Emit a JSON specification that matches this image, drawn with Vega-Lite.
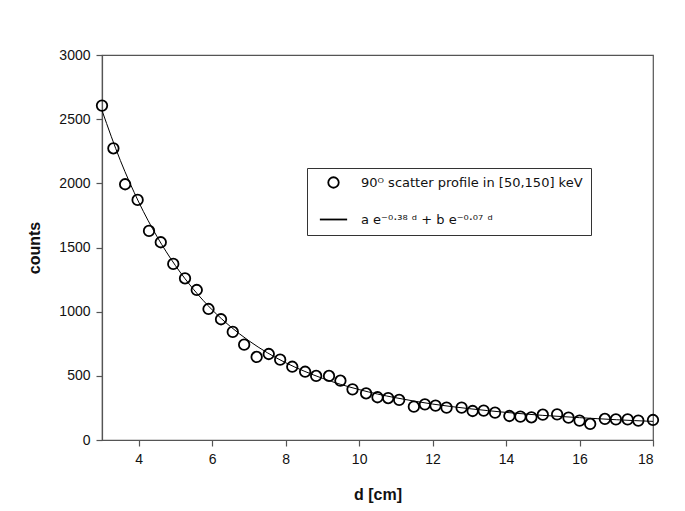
{
  "$schema": "https://vega.github.io/schema/vega-lite/v6.json",
  "width": 551,
  "height": 385,
  "autosize": "none",
  "padding": {"left": 102, "top": 55, "right": 32, "bottom": 71},
  "background": "white",
  "config": {
    "font": "Liberation Sans",
    "view": {"stroke": "#555555", "strokeWidth": 1.2},
    "axis": {
      "grid": false,
      "domainColor": "#555555",
      "tickColor": "#555555",
      "domainWidth": 1.2,
      "tickWidth": 1.2,
      "tickSize": 6,
      "labelFont": "Liberation Sans",
      "labelFontSize": 14,
      "labelColor": "#111111",
      "titleFont": "Liberation Sans",
      "titleFontSize": 16,
      "titleFontWeight": "bold",
      "titleColor": "#111111"
    }
  },
  "datasets": {
    "scatter": [
      {"d": 3.0, "counts": 2606}, {"d": 3.31, "counts": 2273}, {"d": 3.63, "counts": 1993},
      {"d": 3.97, "counts": 1871}, {"d": 4.28, "counts": 1629}, {"d": 4.6, "counts": 1541},
      {"d": 4.94, "counts": 1372}, {"d": 5.26, "counts": 1260}, {"d": 5.58, "counts": 1169},
      {"d": 5.9, "counts": 1021}, {"d": 6.24, "counts": 941}, {"d": 6.56, "counts": 842},
      {"d": 6.87, "counts": 743}, {"d": 7.21, "counts": 647}, {"d": 7.54, "counts": 670},
      {"d": 7.85, "counts": 626}, {"d": 8.18, "counts": 571}, {"d": 8.53, "counts": 532},
      {"d": 8.83, "counts": 499}, {"d": 9.18, "counts": 499}, {"d": 9.49, "counts": 462},
      {"d": 9.82, "counts": 395}, {"d": 10.19, "counts": 364}, {"d": 10.5, "counts": 333},
      {"d": 10.79, "counts": 327}, {"d": 11.09, "counts": 312}, {"d": 11.49, "counts": 260},
      {"d": 11.79, "counts": 278}, {"d": 12.08, "counts": 268}, {"d": 12.38, "counts": 252},
      {"d": 12.79, "counts": 252}, {"d": 13.09, "counts": 226}, {"d": 13.39, "counts": 229},
      {"d": 13.7, "counts": 213}, {"d": 14.09, "counts": 187}, {"d": 14.39, "counts": 182},
      {"d": 14.69, "counts": 177}, {"d": 15.0, "counts": 197}, {"d": 15.39, "counts": 200},
      {"d": 15.7, "counts": 174}, {"d": 16.0, "counts": 151}, {"d": 16.29, "counts": 125},
      {"d": 16.69, "counts": 164}, {"d": 16.99, "counts": 161}, {"d": 17.31, "counts": 161},
      {"d": 17.6, "counts": 151}, {"d": 18.0, "counts": 156}
    ],
    "fit": [
      {"d": 3.0, "counts": 2568}, {"d": 3.5, "counts": 2178}, {"d": 4.0, "counts": 1854},
      {"d": 4.5, "counts": 1584}, {"d": 5.0, "counts": 1359}, {"d": 5.5, "counts": 1171},
      {"d": 6.0, "counts": 1014}, {"d": 6.5, "counts": 883}, {"d": 7.0, "counts": 773},
      {"d": 7.5, "counts": 680}, {"d": 8.0, "counts": 602}, {"d": 8.5, "counts": 537},
      {"d": 9.0, "counts": 481}, {"d": 9.5, "counts": 433}, {"d": 10.0, "counts": 393},
      {"d": 10.5, "counts": 358}, {"d": 11.0, "counts": 329}, {"d": 11.5, "counts": 303},
      {"d": 12.0, "counts": 280}, {"d": 12.5, "counts": 261}, {"d": 13.0, "counts": 244},
      {"d": 13.5, "counts": 229}, {"d": 14.0, "counts": 215}, {"d": 14.5, "counts": 203},
      {"d": 15.0, "counts": 192}, {"d": 15.5, "counts": 183}, {"d": 16.0, "counts": 174},
      {"d": 16.5, "counts": 166}, {"d": 17.0, "counts": 158}, {"d": 17.5, "counts": 151},
      {"d": 18.0, "counts": 145}
    ]
  },
  "encoding": {
    "x": {
      "field": "d", "type": "quantitative", "title": "d [cm]",
      "scale": {"domain": [3, 18], "nice": false, "zero": false},
      "axis": {"values": [4, 6, 8, 10, 12, 14, 16, 18], "format": "d", "labelPadding": 6, "titlePadding": 20}
    },
    "y": {
      "field": "counts", "type": "quantitative", "title": "counts",
      "scale": {"domain": [0, 3000], "nice": false},
      "axis": {"values": [0, 500, 1000, 1500, 2000, 2500, 3000], "format": "d", "labelPadding": 6, "titlePadding": 16}
    }
  },
  "layer": [
    {
      "data": {"name": "fit"},
      "mark": {"type": "line", "color": "black", "strokeWidth": 1, "interpolate": "monotone"}
    },
    {
      "data": {"name": "scatter"},
      "transform": [{"calculate": "'90ᴼ scatter profile in [50,150] keV'", "as": "series"}],
      "mark": {"type": "point", "filled": false, "color": "black", "size": 110, "strokeWidth": 1.8, "opacity": 1},
      "encoding": {
        "shape": {
          "field": "series", "type": "nominal",
          "scale": {
            "domain": ["90ᴼ scatter profile in [50,150] keV", "a e⁻⁰·³⁸ ᵈ + b e⁻⁰·⁰⁷ ᵈ"],
            "range": ["circle", "M-2.6,0H2.6"]
          },
          "legend": {
            "title": null,
            "orient": "none",
            "legendX": 205,
            "legendY": 113,
            "strokeColor": "#333333",
            "padding": 8,
            "rowPadding": 21,
            "labelFontSize": 13,
            "labelFont": "DejaVu Sans",
            "labelLimit": 400,
            "labelColor": "#111111",
            "symbolSize": 110,
            "symbolStrokeWidth": 1.8,
            "symbolStrokeColor": "black",
            "symbolOffset": 12,
            "labelOffset": 21,
            "cornerRadius": 0
          }
        }
      }
    }
  ]
}
